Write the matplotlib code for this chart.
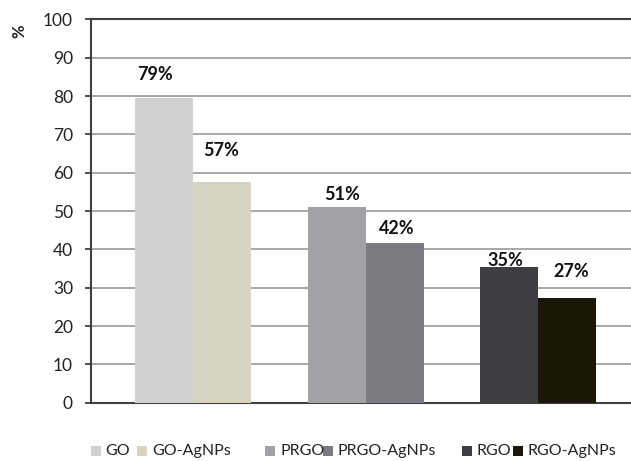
import numpy as np
import matplotlib
matplotlib.use('Agg')
import matplotlib.pyplot as plt
from matplotlib.patches import Rectangle

plt.rcParams['font.family'] = ['Lato', 'DejaVu Sans']

# data
groups = ['GO', 'PRGO', 'RGO']
series = ['GO', 'GO-AgNPs', 'PRGO', 'PRGO-AgNPs', 'RGO', 'RGO-AgNPs']
values = [79.4, 57.5, 51.0, 41.6, 35.5, 27.2]
labels = ['79%', '57%', '51%', '42%', '35%', '27%']
colors = ['#d0d1d3', '#d6d4c0', '#a0a2a6', '#7b7c81', '#3d3e42', '#1a1709']

# label tweaks (value units up, px sideways)
label_dy = [6.2, 8.3, 3.3, 3.8, 1.5, 7.0]
label_dx = [-9, -1, 5, 2, -4, 4]

W, H = 631, 461
fig = plt.figure(figsize=(W / 100, H / 100), dpi=100)
ax = fig.add_axes([91 / W, (H - 402.7) / H, 1 - 91 / W, 383.2 / H])

bw = 0.336
x = np.arange(len(groups))
for i, v in enumerate(values):
    g = i // 2
    xpos = x[g] + (-0.5 if i % 2 == 0 else 0.5) * bw
    ax.bar(xpos, v, width=bw, color=colors[i], zorder=3)
    ax.annotate(labels[i], (xpos, v + label_dy[i]), xytext=(label_dx[i], 0),
                textcoords='offset pixels', ha='center', va='center',
                fontsize=13, fontweight='bold', color='#111111', zorder=4)

ax.set_xlim(-0.59, 2.536)
ax.set_ylim(0, 100)
ax.set_yticks(np.arange(0, 101, 10))
ax.set_xticks([])
ax.yaxis.grid(True, color='#a0a0a0', linewidth=1.3, zorder=0)
ax.axhline(100, color='#404040', linewidth=1.5, zorder=2, clip_on=False)
for s in ['top', 'right']:
    ax.spines[s].set_visible(False)
for s in ['left', 'bottom']:
    ax.spines[s].set_color('#404040')
    ax.spines[s].set_linewidth(1.5)
ax.tick_params(axis='y', length=4, width=1.3, color='#404040', pad=9,
               labelsize=12.5, labelcolor='#222222')

fig.text(19 / W, 1 - 31 / H, '%', rotation=90, ha='center', va='center',
         fontsize=12, fontweight='bold', color='#222222')

# legend drawn by hand to keep the uneven gaps
leg_x = [90.7, 137, 265, 322.7, 461.7, 512.7]
leg_y = 450.5
for i, name in enumerate(series):
    fig.add_artist(Rectangle((leg_x[i] / W, (H - leg_y - 5) / H), 10 / W, 10 / H,
                             transform=fig.transFigure, facecolor=colors[i],
                             edgecolor='none'))
    fig.text((leg_x[i] + 15) / W, (H - leg_y) / H, name, ha='left', va='center',
             fontsize=11.5, color='#222222')

fig.savefig('out.png', dpi=100)
